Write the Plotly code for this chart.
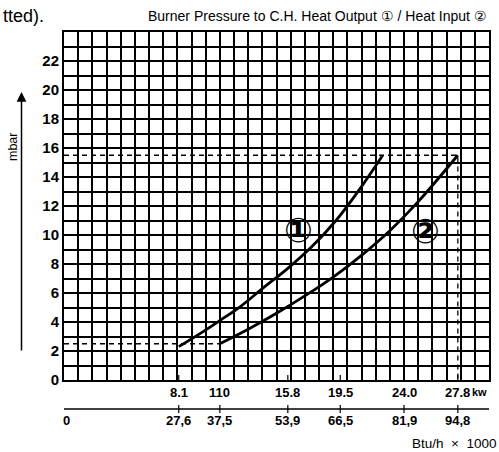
import plotly.graph_objects as go

# ---- data ----
kw_ticks = [8.1, 11.0, 15.8, 19.5, 24.0, 27.8]
kw_labels = ["8.1", "110", "15.8", "19.5", "24.0", "27.8"]
btu_ticks = [0.0, 8.1, 11.0, 15.8, 19.5, 24.0, 27.8]
btu_labels = ["0", "27,6", "37,5", "53,9", "66,5", "81,9", "94,8"]
mbar_ticks = list(range(0, 25))
mbar_labels = [str(v) if (v % 2 == 0 and v < 24) else "" for v in mbar_ticks]

c1_kw = [8.1, 9.6, 11.0, 12.5, 14.0, 15.8, 17.5, 19.2, 20.9, 22.5]
c1_mbar = [2.3, 3.2, 4.1, 5.1, 6.3, 7.7, 9.2, 11.0, 13.2, 15.5]
c2_kw = [11.0, 13.0, 15.0, 17.0, 19.0, 21.0, 23.0, 25.0, 27.8]
c2_mbar = [2.5, 3.5, 4.6, 5.8, 7.1, 8.6, 10.3, 12.3, 15.5]

p_min = 2.5
p_max = 15.5
kw_max = 27.8
kw_min_input = 11.0

W, H = 499, 452
ML, MR, MT, MB = 64, 10, 32, 72
PH = H - MT - MB
PW = W - ML - MR

def py(px_below):
    """paper y for a pixel offset below the plot bottom"""
    return -px_below / PH

def px_x(px):
    return (px - ML) / PW

fig = go.Figure()

# dashed reference lines
fig.add_trace(go.Scatter(x=[0, kw_max, kw_max], y=[p_max, p_max, 0], mode="lines",
                         line=dict(color="black", width=1.3, dash="5px,4px"), hoverinfo="skip"))
fig.add_trace(go.Scatter(x=[0, kw_min_input], y=[p_min, p_min], mode="lines",
                         line=dict(color="black", width=1.3, dash="5px,4px"), hoverinfo="skip"))

# curves
fig.add_trace(go.Scatter(x=c1_kw, y=c1_mbar, mode="lines",
                         line=dict(color="black", width=2.8, shape="spline", smoothing=1.0)))
fig.add_trace(go.Scatter(x=c2_kw, y=c2_mbar, mode="lines",
                         line=dict(color="black", width=2.8, shape="spline", smoothing=1.0)))

annotations = []
# circled labels
annotations.append(dict(x=16.55, y=10.35, xref="x", yref="y", text="<b>①</b>", showarrow=False,
                        xanchor="center", yanchor="middle",
                        font=dict(family="DejaVu Sans", size=34, color="black")))
annotations.append(dict(x=25.5, y=10.3, xref="x", yref="y", text="<b>②</b>", showarrow=False,
                        xanchor="center", yanchor="middle",
                        font=dict(family="DejaVu Sans", size=34, color="black")))

# kW labels
for v, t in zip(kw_ticks, kw_labels):
    annotations.append(dict(x=v, y=py(12), xref="x", yref="paper", text=f"<b>{t}</b>",
                            showarrow=False, xanchor="center", yanchor="middle",
                            font=dict(family="Liberation Sans", size=13, color="black")))
annotations.append(dict(x=px_x(489), y=py(12), xref="paper", yref="paper", text="<b>kw</b>",
                        showarrow=False, xanchor="right", yanchor="middle",
                        font=dict(family="Liberation Sans", size=11, color="black")))
# Btu labels
for v, t in zip(btu_ticks, btu_labels):
    annotations.append(dict(x=v, y=py(40), xref="x", yref="paper", text=f"<b>{t}</b>",
                            showarrow=False, xanchor="center", yanchor="middle",
                            xshift=2 if v == 0 else 0,
                            font=dict(family="Liberation Sans", size=13, color="black")))
annotations.append(dict(x=px_x(498), y=py(63), xref="paper", yref="paper",
                        text="Btu/h \u00a0×\u00a0 1000",
                        showarrow=False, xanchor="right", yanchor="middle",
                        font=dict(family="Liberation Sans", size=13.5, color="black")))

# title and clipped text
annotations.append(dict(x=px_x(489), y=1 + 16.5 / PH, xref="paper", yref="paper",
                        text="Burner Pressure to C.H. Heat Output ① / Heat Input ②",
                        showarrow=False, xanchor="right", yanchor="middle",
                        font=dict(family="Liberation Sans", size=14, color="black")))
annotations.append(dict(x=px_x(1), y=1 + 16 / PH, xref="paper", yref="paper",
                        text="tted).", showarrow=False, xanchor="left", yanchor="middle",
                        font=dict(family="Liberation Sans", size=18, color="black")))

# y-axis unit and arrow
annotations.append(dict(x=px_x(13), y=(380 - 147) / PH, xref="paper", yref="paper",
                        text="mbar", textangle=-90, showarrow=False,
                        xanchor="center", yanchor="middle",
                        font=dict(family="Liberation Sans", size=12.5, color="black")))
annotations.append(dict(x=px_x(21.5), y=(380 - 92) / PH, xref="paper", yref="paper",
                        text="", showarrow=True, ax=0, ay=260, arrowhead=2, arrowsize=1.3,
                        arrowwidth=1.5, arrowcolor="black"))

shapes = []
# Btu axis line
shapes.append(dict(type="line", xref="x", yref="paper", x0=0, x1=30, y0=py(29), y1=py(29),
                   line=dict(color="black", width=1.5)))
for v in btu_ticks[1:]:
    shapes.append(dict(type="line", xref="x", yref="paper", x0=v, x1=v, y0=py(25), y1=py(33),
                       line=dict(color="black", width=1.2)))
# small ticks inside bottom
for v in kw_ticks:
    shapes.append(dict(type="line", xref="x", yref="paper", x0=v, x1=v, y0=0, y1=5 / PH,
                       line=dict(color="black", width=1.2)))

fig.update_layout(
    width=W, height=H,
    margin=dict(l=ML, r=MR, t=MT, b=MB, autoexpand=False),
    paper_bgcolor="white", plot_bgcolor="white",
    showlegend=False,
    annotations=annotations,
    shapes=shapes,
    xaxis=dict(range=[0, 30], tickvals=list(range(0, 31)), showticklabels=False,
               showgrid=True, gridcolor="black", gridwidth=1.5, zeroline=False,
               showline=True, linecolor="black", linewidth=2, mirror=True, ticks="",
               automargin=False),
    yaxis=dict(range=[0, 24], tickvals=mbar_ticks, ticktext=mbar_labels,
               showgrid=True, gridcolor="black", gridwidth=1.5, zeroline=False,
               showline=True, linecolor="black", linewidth=2, mirror=True, ticks="",
               automargin=False,
               tickfont=dict(family="Liberation Sans", size=15, color="black", weight="bold")),
)

fig.write_html("out.html", config={"displayModeBar": False},
               post_script="document.body.style.margin='0';document.body.style.overflow='hidden';")
